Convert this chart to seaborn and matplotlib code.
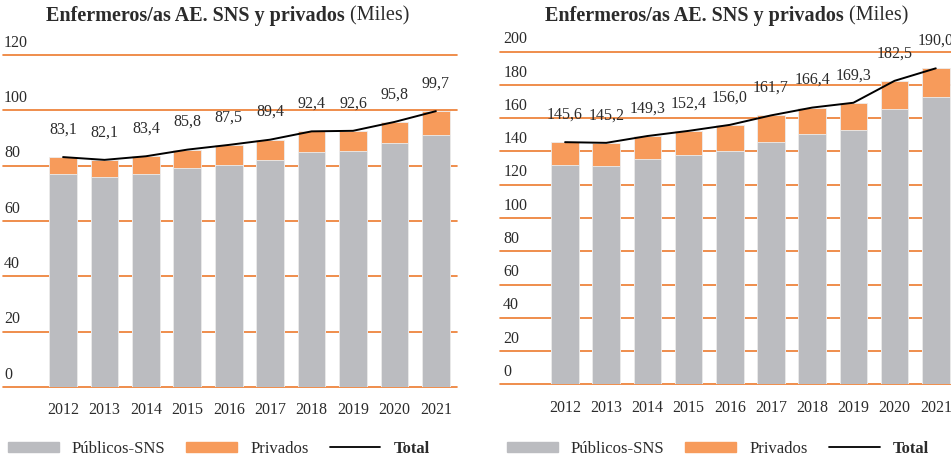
import numpy as np
import pandas as pd
import seaborn as sns
import matplotlib.pyplot as plt
from matplotlib.patches import Patch
from matplotlib.lines import Line2D

# Data (thousands)
years = ["2012", "2013", "2014", "2015", "2016", "2017", "2018", "2019", "2020", "2021"]

left_public = [77.1, 75.9, 77.0, 79.0, 80.2, 82.0, 84.9, 85.2, 88.2, 91.2]
left_total = [83.1, 82.1, 83.4, 85.8, 87.5, 89.4, 92.4, 92.6, 95.8, 99.7]
left_ticks = [0, 20, 40, 60, 80, 100, 120]

right_public = [131.9, 131.5, 135.3, 137.7, 140.3, 145.9, 150.3, 152.9, 165.7, 172.8]
right_total = [145.6, 145.2, 149.3, 152.4, 156.0, 161.7, 166.4, 169.3, 182.5, 190.0]
right_ticks = [0, 20, 40, 60, 80, 100, 120, 140, 160, 180, 200]

title_bold = "Enfermeros/as AE. SNS y privados"
title_unit = " (Miles)"
legend_labels = ["Públicos-SNS", "Privados", "Total"]

GREY = "#BBBCC0"
ORANGE = "#F79B5B"
GRID = "#EC7A2E"
TEXT = "#2B2B2B"
FS = 11.5

sns.set_theme(style="white")
plt.rcParams["font.family"] = ["Liberation Serif", "DejaVu Serif"]
plt.rcParams["text.color"] = TEXT

fig = plt.figure(figsize=(9.51, 4.59), dpi=100)


def draw_panel(rect, xlim, public, total, ticks, label_x, title_x):
    ax = fig.add_axes(rect)
    df = pd.DataFrame({"year": years, "public": public, "total": total})

    for t in ticks:
        ax.axhline(t, color=GRID, lw=1.2, zorder=0, clip_on=False)

    sns.barplot(data=df, x="year", y="total", color=ORANGE, width=0.67,
                saturation=1, edgecolor="#EDEDED", linewidth=0.6, ax=ax, zorder=2)
    sns.barplot(data=df, x="year", y="public", color=GREY, width=0.67,
                saturation=1, edgecolor="#EDEDED", linewidth=0.6, ax=ax, zorder=3)
    sns.lineplot(x=np.arange(len(years)), y=total, color="black", lw=1.4,
                 ax=ax, zorder=4)

    for i, v in enumerate(total):
        ax.annotate(f"{v:.1f}".replace(".", ","), xy=(i, v), xytext=(0, 17),
                    textcoords="offset points", ha="center", va="baseline",
                    fontsize=FS, color=TEXT, annotation_clip=False)

    for t in ticks:
        ax.annotate(str(t), xy=(label_x, t), xycoords=ax.get_yaxis_transform(),
                    xytext=(0, 6), textcoords="offset points", ha="left",
                    va="baseline", fontsize=FS, color=TEXT, annotation_clip=False)

    ax.set_xlim(*xlim)
    ax.set_ylim(ticks[0], ticks[-1])
    ax.set_yticks([])
    ax.set_xlabel("")
    ax.set_ylabel("")
    ax.tick_params(axis="x", length=0, pad=11, labelsize=FS, labelcolor=TEXT)
    for s in ax.spines.values():
        s.set_visible(False)

    # title: bold part + regular unit
    fig.text(title_x, 0.966, title_bold, fontsize=14.5, fontweight="bold",
             ha="right", va="center", color=TEXT)
    fig.text(title_x, 0.966, title_unit, fontsize=14.5, ha="left",
             va="center", color=TEXT)
    return ax


ax1 = draw_panel([3 / 951, 72 / 459, 454 / 951, 332 / 459], (-1.45, 9.51),
                 left_public, left_total, left_ticks, 0.002, 345 / 951)
ax2 = draw_panel([500 / 951, 74.7 / 459, 451 / 951, 332.6 / 459], (-1.58, 9.37),
                 right_public, right_total, right_ticks, 0.007, 844 / 951)

handles = [Patch(color=GREY), Patch(color=ORANGE), Line2D([], [], color="black", lw=1.3)]
for x0 in (8 / 951, 507 / 951):
    leg = fig.legend(handles, legend_labels, loc="center left",
                     bbox_to_anchor=(x0, 10 / 459), ncol=3, frameon=False,
                     fontsize=12, handlelength=3.05, handleheight=0.6,
                     handletextpad=0.78, columnspacing=1.26,
                     borderpad=0, borderaxespad=0)
    leg.get_texts()[2].set_fontweight("bold")

fig.savefig("out.png", dpi=100)
